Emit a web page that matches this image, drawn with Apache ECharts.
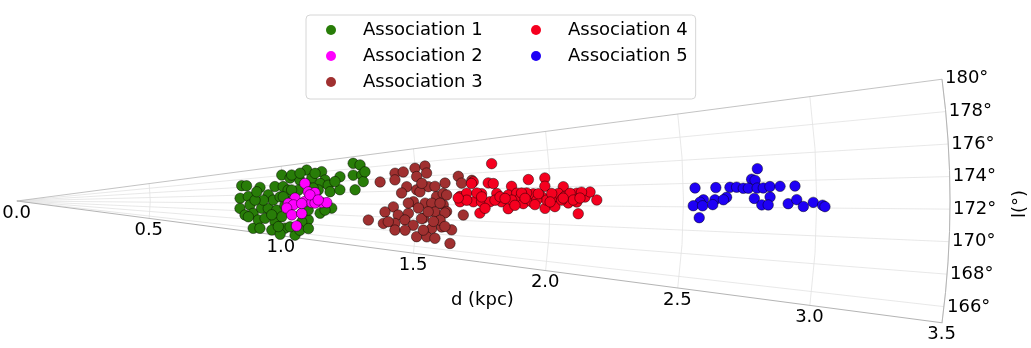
<!DOCTYPE html>
<html>
<head>
<meta charset="utf-8">
<script src="https://cdn.jsdelivr.net/npm/echarts@6/dist/echarts.min.js"></script>
<style>
  html, body { margin: 0; padding: 0; background: #fff; }
  #container { width: 1031px; height: 348px; }
</style>
</head>
<body>
<div id="container"></div>
<script>
// [d (kpc), l (deg)]
const assoc1 = [
  [0.845, 176.4], [0.863, 176.3], [0.837, 173.2], [0.837, 170.6], [0.868, 173.6],
  [0.874, 171.5], [0.857, 169.0], [0.887, 169.5], [0.892, 165.9], [0.908, 168.0],
  [0.913, 175.7], [0.918, 170.8], [0.943, 173.9], [0.943, 170.8], [0.933, 168.5],
  [0.969, 175.7], [0.961, 172.7], [0.975, 170.5], [0.971, 167.9], [0.962, 166.0],
  [0.998, 178.1], [1.028, 177.3], [1.000, 175.6], [1.018, 174.8], [0.987, 173.4],
  [1.005, 171.6], [0.995, 169.1], [1.010, 166.7], [0.995, 165.3], [1.051, 165.5],
  [1.064, 176.7], [1.093, 178.6], [1.109, 176.9], [1.100, 175.0], [1.148, 178.0],
  [1.158, 176.4], [1.139, 175.8], [1.169, 175.4], [1.175, 174.2], [1.215, 176.8],
  [1.212, 174.5], [1.181, 171.2], [1.138, 170.2], [1.095, 168.8], [1.071, 168.3],
  [1.029, 167.1], [1.269, 178.9], [1.294, 178.5], [1.265, 176.9], [1.297, 176.8],
  [1.269, 174.4], [1.301, 175.7], [1.056, 174.7], [1.031, 172.7], [1.069, 170.0],
  [0.924, 172.7], [0.893, 172.7], [1.310, 177.3], [1.031, 174.8], [0.999, 173.4],
  [0.957, 169.4], [1.093, 170.7], [1.156, 170.8], [1.131, 174.6], [1.067, 166.6],
  [1.098, 167.1], [1.035, 177.9], [1.067, 178.1], [1.123, 177.8], [1.195, 176.0],
  [1.112, 175.0], [0.900, 174.7], [1.018, 171.0], [0.985, 166.9], [0.917, 166.1],
  [0.870, 168.6]
];
const assoc2 = [
  [1.082, 176.0], [1.093, 174.3], [1.118, 174.1], [1.043, 173.1], [1.080, 172.4],
  [1.106, 172.2], [1.143, 172.2], [1.162, 172.2], [1.018, 172.0], [1.037, 171.7],
  [1.012, 171.0], [1.032, 169.6], [1.069, 170.0], [1.053, 167.4], [1.118, 172.1],
  [1.099, 173.7], [1.068, 172.0], [1.130, 172.7]
];
const assoc3 = [
  [1.364, 175.5], [1.422, 176.7], [1.453, 176.8], [1.498, 177.2], [1.536, 177.4],
  [1.420, 175.7], [1.502, 176.0], [1.540, 176.4], [1.463, 174.6], [1.500, 174.1],
  [1.544, 174.5], [1.607, 174.9], [1.443, 173.7], [1.512, 173.8], [1.574, 173.1],
  [1.599, 173.5], [1.487, 172.4], [1.531, 172.2], [1.556, 172.2], [1.599, 172.0],
  [1.412, 171.6], [1.381, 170.8], [1.431, 170.4], [1.469, 170.7], [1.526, 170.1],
  [1.569, 171.0], [1.612, 171.1], [1.320, 169.4], [1.377, 169.0], [1.420, 169.1],
  [1.457, 169.7], [1.489, 169.0], [1.519, 170.0], [1.559, 168.7], [1.596, 169.0],
  [1.634, 168.7], [1.505, 167.4], [1.543, 167.5], [1.574, 167.4], [1.632, 166.9],
  [1.675, 170.7], [1.658, 175.7], [1.669, 174.8], [1.422, 168.1], [1.460, 168.2],
  [1.395, 169.3], [1.708, 175.1], [1.612, 173.3], [1.606, 170.9], [1.569, 174.5],
  [1.520, 175.0], [1.587, 172.2], [1.506, 171.5], [1.543, 171.0], [1.589, 169.9],
  [1.608, 169.1], [1.528, 168.4], [1.468, 172.2], [1.564, 169.7]
];
const assoc4 = [
  [1.786, 177.0], [1.713, 174.9], [1.769, 174.7], [1.788, 174.6], [1.856, 174.2],
  [1.920, 174.9], [1.982, 175.0], [1.981, 174.1], [2.050, 174.0], [1.662, 173.1],
  [1.687, 173.5], [1.662, 172.4], [1.712, 172.4], [1.743, 173.4], [1.743, 172.4],
  [1.774, 172.4], [1.800, 173.4], [1.818, 172.4], [1.843, 173.2], [1.843, 171.6],
  [1.875, 173.4], [1.887, 172.8], [1.899, 172.2], [1.931, 172.4], [1.937, 173.3],
  [1.968, 173.0], [1.981, 171.7], [1.987, 172.6], [2.018, 172.6], [2.018, 171.9],
  [2.031, 173.3], [2.056, 173.0], [2.068, 172.3], [2.100, 172.4], [2.100, 173.3],
  [2.131, 172.9], [2.150, 173.4], [2.175, 172.6], [2.106, 171.2], [1.737, 171.0],
  [1.756, 171.6], [1.793, 172.6], [1.812, 173.0], [1.912, 173.4], [1.950, 172.6],
  [2.006, 173.3], [2.043, 172.6], [2.075, 173.3], [2.118, 173.4], [1.687, 172.6],
  [1.856, 172.6], [1.893, 173.4], [1.956, 173.3], [1.725, 173.5], [1.906, 172.8],
  [2.000, 172.4], [2.087, 172.6], [1.743, 173.0], [1.943, 172.1], [1.868, 172.0],
  [1.831, 172.8], [2.049, 172.8], [2.112, 172.8], [1.655, 172.9], [1.706, 174.7]
];
const assoc5 = [
  [2.780, 175.0], [2.757, 174.2], [2.770, 174.1], [2.544, 173.6], [2.622, 173.6],
  [2.675, 173.6], [2.700, 173.6], [2.725, 173.5], [2.744, 173.5], [2.777, 173.5],
  [2.800, 173.5], [2.825, 173.6], [2.863, 173.6], [2.919, 173.6], [2.662, 172.8],
  [2.618, 172.6], [2.575, 172.6], [2.562, 172.4], [2.537, 172.1], [2.572, 172.1],
  [2.610, 172.2], [2.650, 172.6], [2.766, 172.7], [2.825, 172.8], [2.794, 172.2],
  [2.818, 172.2], [2.893, 172.3], [2.925, 172.6], [2.950, 172.1], [2.987, 172.4],
  [3.022, 172.2], [3.031, 172.1], [2.560, 171.1]
];
const seriesNames = ['Association 1', 'Association 2', 'Association 3', 'Association 4', 'Association 5'];
const seriesColors = ['#287d08', '#ff00ff', '#a03030', '#f5001f', '#1e00f5'];
const angleTicks = [166, 168, 170, 172, 174, 176, 178, 180];

const font = 'DejaVu Sans';
const gridColor = '#e2e2e2';
const spineColor = '#b4b4b4';

const allData = [assoc1, assoc2, assoc3, assoc4, assoc5];

const option = {
  animation: false,
  backgroundColor: '#fff',
  textStyle: { fontFamily: font },
  polar: {
    center: [17, 201],
    radius: 933
  },
  angleAxis: {
    type: 'value',
    min: 165,
    max: 180,
    startAngle: -7.5,
    endAngle: 7.5,
    clockwise: false,
    axisLine: { show: true, lineStyle: { color: spineColor, width: 1 } },
    axisTick: { show: false, customValues: angleTicks },
    axisLabel: {
      customValues: angleTicks,
      formatter: '{value}°',
      margin: 3,
      fontSize: 18,
      color: '#000',
      fontFamily: font
    },
    splitLine: {
      show: true,
      lineStyle: {
        color: [gridColor, gridColor, gridColor, gridColor, gridColor, gridColor, gridColor, spineColor],
        width: 0.8
      }
    }
  },
  radiusAxis: {
    type: 'value',
    min: 0,
    max: 3.5,
    interval: 0.5,
    name: 'd (kpc)',
    nameLocation: 'middle',
    nameRotate: 0,
    nameGap: 39,
    nameTextStyle: { fontSize: 18, color: '#000', fontFamily: font, align: 'center', verticalAlign: 'middle', padding: [0, 0, 0, 16] },
    axisLine: { show: true, lineStyle: { color: spineColor, width: 1 } },
    axisTick: { show: false },
    axisLabel: {
      formatter: v => v.toFixed(1),
      fontSize: 18,
      color: '#000',
      fontFamily: font,
      margin: -3,
      align: 'center',
      verticalAlign: 'top'
    },
    splitLine: { show: true, lineStyle: { color: gridColor, width: 0.8 } }
  },
  legend: [
    {
      data: seriesNames.slice(0, 3),
      orient: 'vertical',
      left: 306,
      top: 15,
      padding: [6, 213, 8, 20],
      itemGap: 8,
      itemWidth: 10,
      itemHeight: 10,
      icon: 'circle',
      itemStyle: { borderWidth: 0 },
      textStyle: { fontSize: 18, lineHeight: 18, color: '#000', fontFamily: font, padding: [0, 0, 0, 22] },
      borderColor: '#d6d6d6',
      borderWidth: 1,
      borderRadius: 4,
      backgroundColor: '#fff'
    },
    {
      data: seriesNames.slice(3),
      orient: 'vertical',
      left: 531,
      top: 21,
      padding: 0,
      itemGap: 8,
      itemWidth: 10,
      itemHeight: 10,
      icon: 'circle',
      itemStyle: { borderWidth: 0 },
      textStyle: { fontSize: 18, lineHeight: 18, color: '#000', fontFamily: font, padding: [0, 0, 0, 22] }
    }
  ],
  graphic: [
    {
      type: 'text',
      x: 1020,
      y: 204,
      rotation: Math.PI / 2,
      style: {
        text: 'l(°)',
        fontSize: 18,
        fontFamily: font,
        fill: '#000',
        align: 'center',
        verticalAlign: 'middle'
      }
    }
  ],
  series: allData.map((d, i) => ({
    name: seriesNames[i],
    type: 'scatter',
    coordinateSystem: 'polar',
    data: d,
    symbol: 'circle',
    symbolSize: 10.5,
    itemStyle: {
      color: seriesColors[i],
      borderColor: 'rgba(0,0,0,0.75)',
      borderWidth: 0.6,
      opacity: 1
    },
    emphasis: { disabled: true }
  }))
};

const dom = document.getElementById('container');
const myChart = echarts.init(dom, null, { renderer: 'canvas' });
myChart.setOption(option);
</script>
</body>
</html>
